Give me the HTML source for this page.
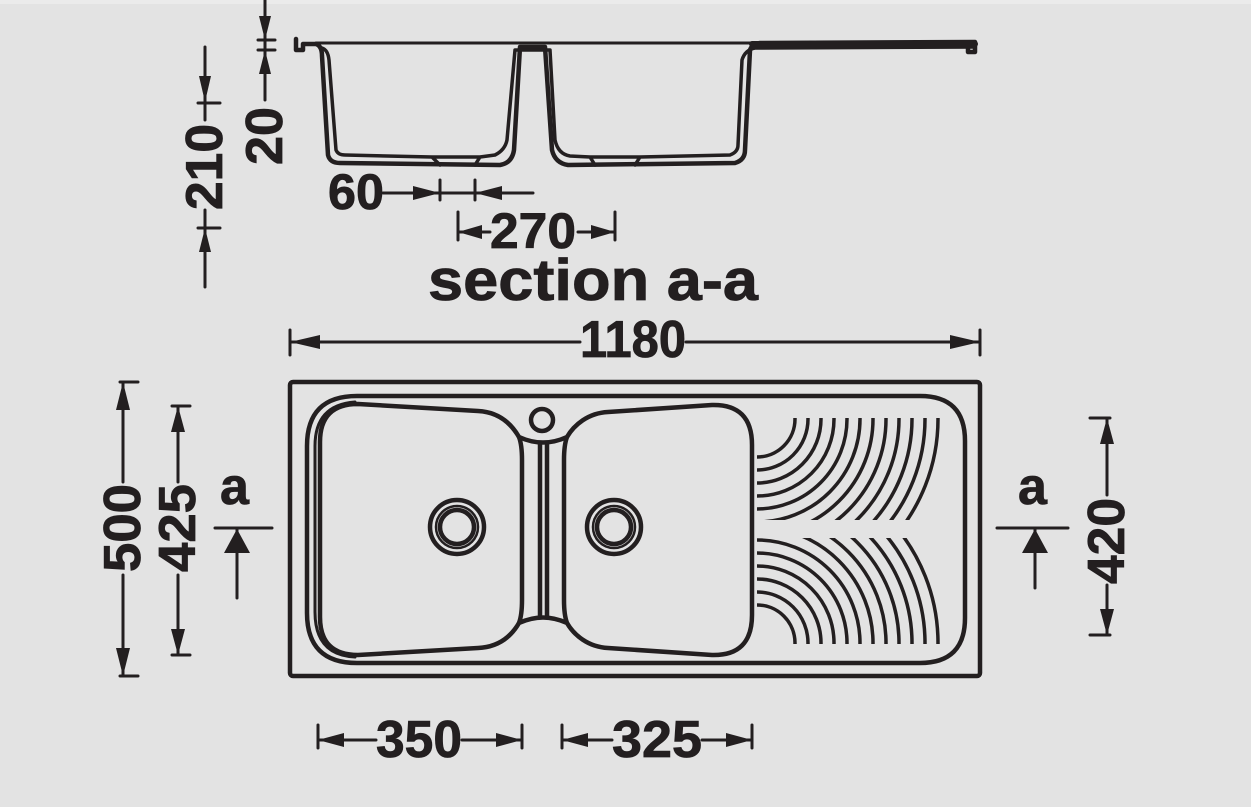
<!DOCTYPE html>
<html><head><meta charset="utf-8"><style>
html,body{margin:0;padding:0;background:#e3e3e3;}
svg{display:block}
text{font-family:"Liberation Sans",sans-serif;font-weight:bold;fill:#231f20}
</style></head><body>
<svg width="1251" height="807" viewBox="0 0 1251 807" xmlns="http://www.w3.org/2000/svg">
<defs>
<clipPath id="cu"><rect x="757" y="418" width="200" height="102"/></clipPath>
<clipPath id="cl"><rect x="757" y="538" width="200" height="106"/></clipPath>
</defs>
<rect x="0" y="0" width="1251" height="4" fill="#ebebeb"/>
<g fill="none" stroke="#231f20" stroke-width="4.5" stroke-linejoin="round" stroke-linecap="round">
<!-- SECTION VIEW -->
<path d="M296,39 L296,50 L303,50 L303,44 L316,44 Q322,46 322,56 L328,155 Q330,163 340,163 L500,165 Q512,163 514,150 L520,47 L545,47 L552,150 Q555,163 568,165 L735,163 Q745,160 745,150 L750,50 Q752,44 760,43 L975,42 L975,52 L968,52 L968,48"/>
<path d="M316,43 L752,43" stroke-width="3"/>
<path d="M322,48 Q328,50 329,60 L336,150 Q338,155 345,155 L432,157 L440,165 M432,157 L480,157 L475,165 M480,157 L495,155 Q505,150 507,140 L515,50 L550,50 L555,140 Q558,154 570,156 L590,157 L595,165 M590,157 L640,157 L635,165 M640,157 L730,155 Q738,152 738,145 L742,60 Q745,50 755,48 L975,47" stroke-width="3.5"/>
<path d="M752,44 L975,44" stroke-width="6"/>
<!-- PLAN VIEW -->
<rect x="290" y="382" width="690" height="294" rx="3"/>
<path d="M357,396 L920,396 Q965,396 965,441 L965,618 Q965,663 920,663 L357,663 Q307,663 307,613 L307,446 Q307,396 357,396 Z"/>
<path d="M355,402 Q315,405 315,446 L315,612 Q315,655 355,657" stroke-width="3"/>
<path d="M358,404 L478,411 C500,412 512,425 519,437 Q543,448 567,437 C574,425 588,413 608,412 L712,405 Q752,404 752,445 L752,615 Q752,656 712,655 L608,648 C588,647 574,635 567,623 Q543,612 519,623 C512,635 500,647 478,648 L358,655 Q320,655 320,617 L320,442 Q320,404 358,404 Z"/>
<path d="M519,437 Q522,445 522,460 L522,600 Q522,615 519,623 M567,437 Q564,445 564,460 L564,600 Q564,615 567,623"/>
<path d="M540,444 L540,616 M547,444 L547,616"/>
<circle cx="542" cy="420" r="11"/>
<circle cx="457" cy="527" r="27"/><circle cx="457" cy="527" r="21" stroke-width="2.5"/><circle cx="457" cy="527" r="17"/>
<circle cx="614" cy="527" r="27"/><circle cx="614" cy="527" r="21" stroke-width="2.5"/><circle cx="614" cy="527" r="17"/>
<g clip-path="url(#cu)" stroke-width="3.5">
<circle cx="757" cy="419" r="38"/><circle cx="757" cy="419" r="51"/><circle cx="757" cy="419" r="64"/><circle cx="757" cy="419" r="77"/><circle cx="757" cy="419" r="90"/><circle cx="757" cy="419" r="103"/><circle cx="757" cy="419" r="116"/><circle cx="757" cy="419" r="129"/><circle cx="757" cy="419" r="142"/><circle cx="757" cy="419" r="155"/><circle cx="757" cy="419" r="168"/><circle cx="757" cy="419" r="181"/>
</g>
<g clip-path="url(#cl)" stroke-width="3.5">
<circle cx="757" cy="643" r="38"/><circle cx="757" cy="643" r="51"/><circle cx="757" cy="643" r="64"/><circle cx="757" cy="643" r="77"/><circle cx="757" cy="643" r="90"/><circle cx="757" cy="643" r="103"/><circle cx="757" cy="643" r="116"/><circle cx="757" cy="643" r="129"/><circle cx="757" cy="643" r="142"/><circle cx="757" cy="643" r="155"/><circle cx="757" cy="643" r="168"/><circle cx="757" cy="643" r="181"/>
</g>
<!-- DIMENSIONS -->
<g stroke-width="3">
<path d="M205,47 L205,120 M205,210 L205,287 M198,103 L220,103 M198,228 L220,228"/>
<path d="M265,0 L265,100 M258,40 L275,40 M258,50 L275,50"/>
<path d="M383,193 L533,193 M440,180 L440,200 M475,180 L475,200"/>
<path d="M458,212 L458,240 M615,212 L615,240 M458,232 L490,232 M578,232 L615,232"/>
<path d="M290,330 L290,355 M980,330 L980,355 M290,342 L580,342 M686,342 L980,342"/>
<path d="M120,382 L138,382 M120,676 L138,676 M123,382 L123,482 M123,575 L123,676"/>
<path d="M172,406 L190,406 M172,655 L190,655 M178,406 L178,482 M178,575 L178,655"/>
<path d="M1090,418 L1110,418 M1090,635 L1110,635 M1107,418 L1107,495 M1107,585 L1107,635"/>
<path d="M215,528 L272,528 M237,528 L237,598"/>
<path d="M997,528 L1068,528 M1035,528 L1035,588"/>
<path d="M318,725 L318,748 M522,725 L522,748 M318,740 L376,740 M462,740 L522,740"/>
<path d="M562,725 L562,748 M752,725 L752,748 M562,740 L612,740 M702,740 L752,740"/>
</g>
</g>
<g fill="#231f20">
<path d="M199,76 L211,76 L205,102 Z"/><path d="M199,252 L211,252 L205,228 Z"/>
<path d="M259,16 L271,16 L265,40 Z"/><path d="M259,74 L271,74 L265,50 Z"/>
<path d="M413,186 L413,200 L440,193 Z"/><path d="M502,186 L502,200 L475,193 Z"/>
<path d="M458,232 L482,225 L482,239 Z"/><path d="M615,232 L591,225 L591,239 Z"/>
<path d="M290,342 L320,335 L320,349 Z"/><path d="M980,342 L950,335 L950,349 Z"/>
<path d="M123,382 L116,410 L130,410 Z"/><path d="M123,676 L116,648 L130,648 Z"/>
<path d="M178,406 L171,432 L185,432 Z"/><path d="M178,655 L171,629 L185,629 Z"/>
<path d="M1107,418 L1100,444 L1114,444 Z"/><path d="M1107,635 L1100,609 L1114,609 Z"/>
<path d="M237,529 L224,553 L250,553 Z"/><path d="M1035,529 L1022,553 L1048,553 Z"/>
<path d="M318,740 L344,733 L344,747 Z"/><path d="M522,740 L496,733 L496,747 Z"/>
<path d="M562,740 L588,733 L588,747 Z"/><path d="M752,740 L726,733 L726,747 Z"/>
</g>
<g stroke="#231f20" stroke-width="0.8">
<text x="428" y="300" font-size="58" textLength="330" lengthAdjust="spacingAndGlyphs">section a-a</text>
<text x="580" y="357" font-size="52" textLength="106" lengthAdjust="spacingAndGlyphs">1180</text>
<text x="490" y="248" font-size="50" textLength="86" lengthAdjust="spacingAndGlyphs">270</text>
<text x="328" y="209" font-size="50" textLength="56" lengthAdjust="spacingAndGlyphs">60</text>
<text x="376" y="757" font-size="52" textLength="86" lengthAdjust="spacingAndGlyphs">350</text>
<text x="612" y="757" font-size="52" textLength="90" lengthAdjust="spacingAndGlyphs">325</text>
<text x="220" y="504" font-size="52">a</text>
<text x="1018" y="504" font-size="52">a</text>
<text transform="translate(222,210) rotate(-90)" font-size="52" textLength="86" lengthAdjust="spacingAndGlyphs">210</text>
<text transform="translate(282,165) rotate(-90)" font-size="52" textLength="58" lengthAdjust="spacingAndGlyphs">20</text>
<text transform="translate(140,572) rotate(-90)" font-size="52" textLength="88" lengthAdjust="spacingAndGlyphs">500</text>
<text transform="translate(195,572) rotate(-90)" font-size="52" textLength="88" lengthAdjust="spacingAndGlyphs">425</text>
<text transform="translate(1124,584) rotate(-90)" font-size="52" textLength="86" lengthAdjust="spacingAndGlyphs">420</text>
</g>
</svg>
</body></html>
